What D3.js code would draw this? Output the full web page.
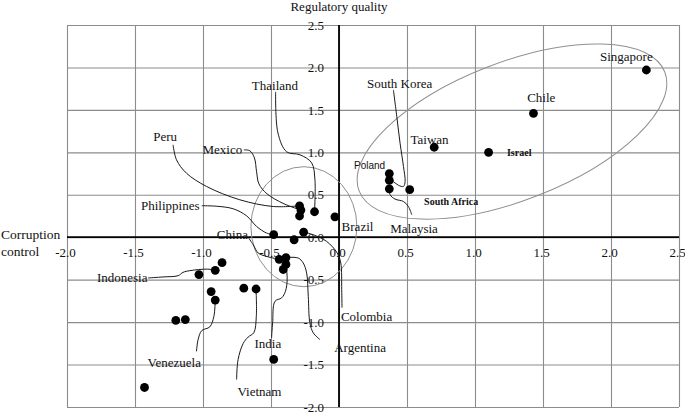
<!DOCTYPE html>
<html>
<head>
<meta charset="utf-8">
<script src="https://cdn.jsdelivr.net/npm/d3@7"></script>
<style>
  body { margin: 0; background: #fff; }
  svg { display: block; }
  text { font-family: "Liberation Serif", "Times New Roman", serif; fill: #111; }
</style>
</head>
<body>
<svg id="chart"></svg>
<script>
// Countries (empty name = unlabeled point)
const countries = ["Singapore", "Chile", "Taiwan", "Israel", "Poland", "South Korea", "Malaysia", "South Africa",
  "Peru", "Mexico", "", "Thailand", "Brazil", "Philippines", "Colombia", "", "China", "Argentina", "India", "",
  "", "Indonesia", "", "", "Venezuela", "", "Vietnam", "", "", "", ""];
const corruptionControl = [2.26, 1.43, 0.70, 1.10, 0.37, 0.37, 0.37, 0.52,
  -0.29, -0.28, -0.29, -0.18, -0.03, -0.48, -0.26, -0.33, -0.44, -0.39, -0.39, -0.41,
  -0.86, -0.91, -1.03, -0.94, -0.91, -0.70, -0.61, -1.20, -1.13, -0.48, -1.43];
const regulatoryQuality = [1.97, 1.46, 1.06, 1.00, 0.75, 0.67, 0.57, 0.56,
  0.37, 0.32, 0.25, 0.30, 0.24, 0.03, 0.06, -0.03, -0.26, -0.24, -0.32, -0.38,
  -0.30, -0.39, -0.44, -0.64, -0.74, -0.60, -0.61, -0.98, -0.97, -1.44, -1.77];

const xTicks = [-2.0, -1.5, -1.0, -0.5, 0.0, 0.5, 1.0, 1.5, 2.0, 2.5];
const yTicks = [-2.0, -1.5, -1.0, -0.5, 0.0, 0.5, 1.0, 1.5, 2.0, 2.5];

const xTitle = ["Corruption", "control"];
const yTitle = "Regulatory quality";

// label anchors (data units)
const labelAnchor = {
  "Singapore": [2.113, 2.071], "Chile": [1.487, 1.594], "Taiwan": [0.666, 1.10],
  "Israel": [1.325, 0.959], "Poland": [0.225, 0.80], "South Korea": [0.446, 1.759],
  "Malaysia": [0.552, 0.047], "South Africa": [0.825, 0.376], "Peru": [-1.278, 1.135],
  "Mexico": [-0.858, 0.982], "Thailand": [-0.471, 1.735], "Brazil": [0.136, 0.076],
  "Philippines": [-1.241, 0.324], "Colombia": [0.203, -0.982], "China": [-0.784, -0.018],
  "Argentina": [0.155, -1.347], "India": [-0.523, -1.30], "Indonesia": [-1.594, -0.524],
  "Venezuela": [-1.211, -1.524], "Vietnam": [-0.585, -1.865]
};
const smallSerif = ["Israel", "South Africa"];
const smallSans = ["Poland"];

// leader line waypoints from label toward its point (data units)
const leaders = {
  "Thailand": [[-0.466, 1.712], [-0.449, 1.229], [-0.385, 1.006], [-0.287, 0.971], [-0.201, 0.876], [-0.177, 0.676]],
  "Peru": [[-1.220, 1.088], [-1.195, 0.912], [-1.122, 0.755], [-0.974, 0.598], [-0.729, 0.441], [-0.484, 0.362]],
  "Mexico": [[-0.700, 1.029], [-0.655, 1.018], [-0.622, 0.935], [-0.606, 0.771], [-0.589, 0.629], [-0.530, 0.512], [-0.405, 0.394]],
  "Philippines": [[-1.009, 0.371], [-0.898, 0.365], [-0.778, 0.335], [-0.680, 0.253], [-0.606, 0.127], [-0.532, 0.049]],
  "China": [[-0.668, 0.0], [-0.631, -0.088], [-0.594, -0.186], [-0.532, -0.226]],
  "Colombia": [[0.022, -0.829], [0.020, -0.618], [0.013, -0.304], [-0.013, -0.186], [-0.091, -0.049], [-0.189, 0.029]],
  "Argentina": [[-0.140, -1.206], [-0.189, -1.127], [-0.214, -1.009], [-0.226, -0.696], [-0.238, -0.421], [-0.263, -0.304], [-0.300, -0.245]],
  "India": [[-0.496, -1.186], [-0.488, -1.009], [-0.471, -0.755], [-0.422, -0.715], [-0.394, -0.638], [-0.381, -0.500]],
  "Vietnam": [[-0.753, -1.676], [-0.742, -1.441], [-0.705, -1.253], [-0.668, -1.176], [-0.626, -1.124], [-0.608, -0.932]],
  "Venezuela": [[-1.048, -1.344], [-1.036, -1.206], [-1.009, -1.100], [-0.950, -1.056], [-0.920, -0.932]],
  "Indonesia": [[-1.404, -0.480], [-1.294, -0.468], [-1.183, -0.453], [-1.147, -0.414], [-1.097, -0.394], [-0.965, -0.376]],
  "South Korea": [[0.400, 1.735], [0.425, 1.421], [0.449, 1.108], [0.474, 0.833], [0.486, 0.656], [0.474, 0.598], [0.437, 0.612], [0.400, 0.653]],
  "Malaysia": [[0.535, 0.265], [0.510, 0.362], [0.474, 0.421], [0.412, 0.449], [0.376, 0.500]]
};

// group outlines: centre in data units
const groups = [
  { cx: 1.272, cy: 1.245, rx: 164, ry: 69, angle: -21.3 },
  { cx: -0.258, cy: 0.124, rx: 53, ry: 60, angle: 0 }
];

const W = 685, H = 412;
const margin = { top: 25, right: 6, bottom: 5, left: 67 };

const svg = d3.select("#chart").attr("width", W).attr("height", H);
svg.append("rect").attr("width", W).attr("height", H).attr("fill", "#fff");

const x = d3.scaleLinear().domain([-2, 2.5]).range([margin.left, W - margin.right]);
const y = d3.scaleLinear().domain([-2, 2.5]).range([H - margin.bottom, margin.top]);

// grid
svg.append("g")
  .attr("transform", "translate(0," + (H - margin.bottom) + ")")
  .call(d3.axisBottom(x).tickValues(xTicks).tickSize(-(H - margin.top - margin.bottom)).tickFormat(""))
  .call(g => g.select(".domain").remove())
  .call(g => g.selectAll("line").attr("stroke", "#8c8c8c").attr("stroke-width", 1.1));
svg.append("g")
  .attr("transform", "translate(" + margin.left + ",0)")
  .call(d3.axisLeft(y).tickValues(yTicks).tickSize(-(W - margin.left - margin.right)).tickFormat(""))
  .call(g => g.select(".domain").remove())
  .call(g => g.selectAll("line").attr("stroke", "#8c8c8c").attr("stroke-width", 1.1));

// zero axes
svg.append("line")
  .attr("x1", x(-2)).attr("x2", x(2.5)).attr("y1", y(0)).attr("y2", y(0))
  .attr("stroke", "#000").attr("stroke-width", 1.8);
svg.append("line")
  .attr("x1", x(0)).attr("x2", x(0)).attr("y1", y(-2)).attr("y2", y(2.5))
  .attr("stroke", "#000").attr("stroke-width", 1.8);

const fmt = d => d.toFixed(1);

// tick labels
const xAxis = svg.append("g")
  .attr("transform", "translate(-2," + y(0) + ")")
  .call(d3.axisBottom(x).tickValues(xTicks).tickSize(0).tickPadding(11).tickFormat(fmt));
const yAxis = svg.append("g")
  .attr("transform", "translate(" + x(0) + ",0)")
  .call(d3.axisLeft(y).tickValues(yTicks).tickSize(0).tickPadding(15).tickFormat(fmt));
[xAxis, yAxis].forEach(a => {
  a.select(".domain").remove();
  a.selectAll("text")
    .style("font-family", '"Liberation Serif", "Times New Roman", serif')
    .style("font-size", "13px")
    .attr("fill", "#111");
});

// axis titles
svg.append("text")
  .attr("x", x(0)).attr("y", 11)
  .attr("text-anchor", "middle")
  .style("font-size", "13px")
  .text(yTitle);
svg.append("text")
  .attr("x", 1).attr("y", y(0) + 2)
  .style("font-size", "13.5px")
  .selectAll("tspan")
  .data(xTitle)
  .enter()
  .append("tspan")
  .attr("x", 1)
  .attr("dy", (d, i) => (i === 0 ? 0 : 16.5))
  .text(d => d);

// group outlines
svg.selectAll(".group")
  .data(groups)
  .enter()
  .append("ellipse")
  .attr("class", "group")
  .attr("transform", d => "translate(" + x(d.cx) + "," + y(d.cy) + ") rotate(" + d.angle + ")")
  .attr("rx", d => d.rx)
  .attr("ry", d => d.ry)
  .attr("fill", "none")
  .attr("stroke", "#8f8f8f")
  .attr("stroke-width", 1);

const points = countries.map((c, i) => ({ name: c, cc: corruptionControl[i], rq: regulatoryQuality[i] }));

// leader lines
const line = d3.line()
  .x(d => x(d[0]))
  .y(d => y(d[1]))
  .curve(d3.curveCatmullRom.alpha(0.5));

svg.selectAll(".leader")
  .data(points.filter(p => leaders[p.name]))
  .enter()
  .append("path")
  .attr("class", "leader")
  .attr("d", p => line(leaders[p.name].concat([[p.cc, p.rq]])))
  .attr("fill", "none")
  .attr("stroke", "#1a1a1a")
  .attr("stroke-width", 1);

// points
svg.selectAll(".dot")
  .data(points)
  .enter()
  .append("circle")
  .attr("class", "dot")
  .attr("cx", d => x(d.cc))
  .attr("cy", d => y(d.rq))
  .attr("r", 4.4)
  .attr("fill", "#000");

// labels
svg.selectAll(".label")
  .data(points.filter(p => labelAnchor[p.name]))
  .enter()
  .append("text")
  .attr("class", "label")
  .attr("x", d => x(labelAnchor[d.name][0]))
  .attr("y", d => y(labelAnchor[d.name][1]))
  .attr("text-anchor", "middle")
  .style("font-size", d => (smallSerif.includes(d.name) || smallSans.includes(d.name) ? "10px" : "13px"))
  .style("font-weight", d => (smallSerif.includes(d.name) ? "bold" : "normal"))
  .style("font-family", d => (smallSans.includes(d.name) ? '"Liberation Sans", Arial, sans-serif' : null))
  .text(d => d.name);
</script>
</body>
</html>
